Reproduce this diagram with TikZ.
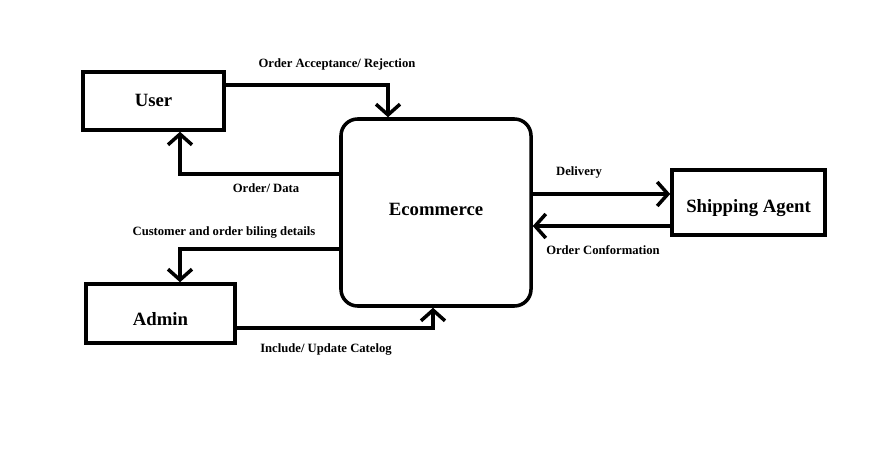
\documentclass[tikz,border=0pt]{standalone}
\usepackage{fontspec}
\setmainfont{Liberation Serif}
\usepackage{tikz}
\usetikzlibrary{positioning,calc,arrows.meta}

\begin{document}
\begin{tikzpicture}[
    x=0.03cm, y=-0.03cm,
    box/.style={rectangle, draw, line width=3pt, align=center, text depth=0pt, font=\fontsize{16}{19}\selectfont\bfseries},
    lbl/.style={font=\fontsize{10.8}{12}\selectfont\bfseries},
    arrow/.style={-{Straight Barb[length=0.32cm, width=0.72cm]}, line width=3pt}
]
\useasboundingbox (0,0) rectangle (885,456);

\node[box, minimum width=4.23cm, minimum height=1.74cm, text height=9.7pt] (user) at (153.5,101) {User};
\node[box, minimum width=5.7cm, minimum height=5.61cm, rounded corners=0.5cm, text height=4.3pt] (ecom) at (436,212.5) {Ecommerce};
\node[box, minimum width=4.59cm, minimum height=1.95cm, text height=17.9pt] (ship) at (748.5,202.5) {Shipping Agent};
\node[box, minimum width=4.47cm, minimum height=1.77cm, text height=20.4pt] (admin) at (160.5,313.5) {Admin};

\node[lbl] (acceptance) at (337,64) {Order Acceptance/ Rejection};
\node[lbl] (orderdata) at (266,188) {Order/ Data};
\node[lbl] (billing) at (224,233) {Customer and order biling details};
\node[lbl] (catalog) at (326,350) {Include/ Update Catelog};
\node[lbl] (delivery) at (579,172) {Delivery};
\node[lbl] (confirm) at (603,250) {Order Conformation};

\draw[arrow] ($(user.east)+(0,-16)$) -| ($(ecom.north)+(-48,0)$);
\draw[arrow] ($(ecom.west)+(0,-38.5)$) -| ($(user.south)+(26.5,0)$);
\draw[arrow] ($(ecom.west)+(0,36.5)$) -| ($(admin.north)+(19.5,0)$);
\draw[arrow] ($(admin.east)+(0,14.5)$) -| ($(ecom.south)+(-3,0)$);
\draw[arrow] ($(ecom.east)+(0,-18.5)$) -- ($(ship.west)+(0,-8.5)$);
\draw[arrow] ($(ship.west)+(0,23.5)$) -- ($(ecom.east)+(0,13.5)$);

\end{tikzpicture}
\end{document}
